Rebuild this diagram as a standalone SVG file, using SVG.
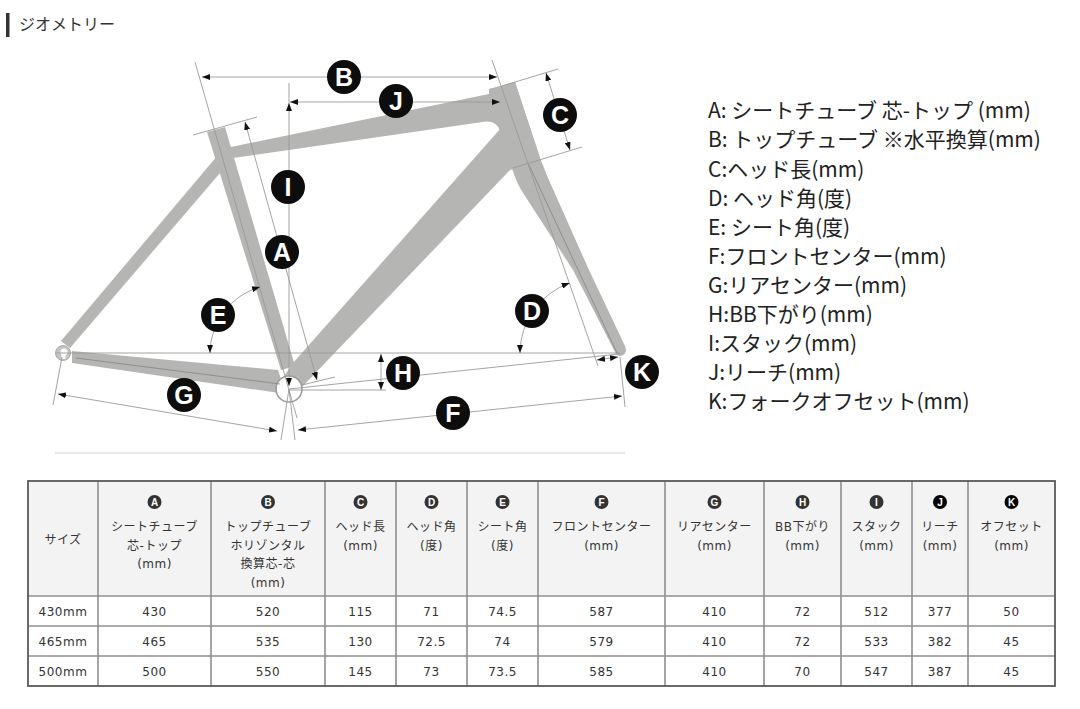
<svg xmlns="http://www.w3.org/2000/svg" width="1080" height="709" viewBox="0 0 1080 709">
<style>
.frame{fill:#b5b5b3;stroke:none}
.dim{stroke:#9a9a9a;stroke-width:0.9;fill:none}
.cl{stroke:#8a8a8a;stroke-width:0.9;fill:none}
.arr{marker-start:url(#ar);marker-end:url(#ar)}
.lbl circle{fill:#0d0d0d}
.lbl text{fill:#fff;font-family:"Liberation Sans",Arial,sans-serif;font-weight:bold;font-size:25px;text-anchor:middle}
.leg{font-family:"Noto Sans CJK JP",sans-serif;font-size:21px;fill:#222}
.tb{font-family:"DejaVu Sans","Noto Sans CJK JP",sans-serif;font-size:12px;fill:#333;text-anchor:middle;letter-spacing:0.5px}
.ic circle{fill:#333}
.ic text{fill:#fff;font-family:"Liberation Sans",Arial,sans-serif;font-weight:bold;font-size:10px;text-anchor:middle}
</style>
<defs>
<marker id="ar" viewBox="0 0 8 6" refX="8" refY="3" markerWidth="8" markerHeight="6" markerUnits="userSpaceOnUse" orient="auto-start-reverse">
<path d="M0,0 L8,3 L0,6 z" fill="#111"/>
</marker>
</defs>
<rect width="1080" height="709" fill="#fff"/>

<g id="title">
<rect x="6" y="13" width="3.5" height="24" fill="#333"/>
<text x="19" y="30" font-family="Noto Sans CJK JP,sans-serif" font-size="16" fill="#333">ジオメトリー</text>
</g>

<g id="frame">
<polygon class="frame" points="218,155 226,166 70,348 61,341"/>
<polygon class="frame" points="72,351 278,370 286,394 72,363"/>
<polygon class="frame" points="207,132 225,127 295,366 281,370"/>
<path class="frame" d="M225,139 L231,147 L489,94 L489,89 L502,86 L502,136 L500,131 Q497,121 486,121.5 L233,158 L228,160 Z"/>
<polygon class="frame" points="489,89 515,82 540,158 530,168 512,170 502,165 501,90"/>
<polygon class="frame" points="501,128 512,168 303,386 283,378 293,363"/>
<path class="frame" d="M512,168 L515,82 L540,158 L548,178 L589,270 L625,346 Q628,354 621,356 Q616,356 615,352 L573,270 L523,193 Q516,182 512,168 Z"/>
<circle cx="63" cy="353" r="7.5" fill="#c4c4c2" stroke="#9a9a9a" stroke-width="0.8"/>
<circle cx="64" cy="352" r="3.5" fill="#fff"/>
<rect x="61.5" y="352" width="4" height="7" fill="#fff"/>
<circle cx="289" cy="389" r="13" fill="#fff" stroke="#9c9c9c" stroke-width="1.6"/>
</g>

<g id="connectors">
<line class="cl" x1="76" y1="358" x2="280" y2="384"/>
<line class="cl" x1="528" y1="163" x2="617" y2="353"/>
<line class="dim" x1="195" y1="62" x2="297" y2="418"/>
<line class="dim" x1="193" y1="135" x2="257" y2="117"/>
<line class="dim" x1="302" y1="385" x2="335" y2="377"/>
<line class="dim" x1="289" y1="83" x2="289" y2="103"/>
<line class="dim" x1="492" y1="60" x2="598" y2="366"/>
<line class="dim" x1="502" y1="86" x2="558" y2="69"/>
<line class="dim" x1="513" y1="168" x2="582" y2="147"/>
<line class="dim" x1="56" y1="353" x2="620" y2="353"/>
<line class="dim" x1="289" y1="389" x2="619" y2="354"/>
<line class="dim" x1="289" y1="390" x2="386" y2="390"/>
<line class="dim" x1="62" y1="357" x2="53" y2="405"/>
<line class="dim" x1="620" y1="357" x2="625" y2="407"/>
<line class="dim" x1="289" y1="389" x2="281" y2="440"/>
<line class="dim" x1="289" y1="389" x2="295" y2="440"/>
<line x1="55" y1="453" x2="625" y2="453" stroke="#cfcfcf" stroke-width="1"/>
<line class="dim arr" x1="202" y1="77" x2="497" y2="77"/>
<line class="dim arr" x1="290" y1="102" x2="500" y2="102"/>
<line class="dim arr" x1="245" y1="122" x2="317" y2="380"/>
<line class="dim arr" x1="289" y1="103" x2="289" y2="386"/>
<line class="dim arr" x1="546" y1="73" x2="570" y2="150"/>
<line class="dim arr" x1="381" y1="354" x2="381" y2="390"/>
<line class="dim arr" x1="597" y1="360" x2="618" y2="357"/>
<line class="dim arr" x1="298" y1="430" x2="622" y2="396"/>
<line class="dim arr" x1="58" y1="394" x2="277" y2="431"/>
<path class="dim arr" d="M260,287 A69,69 0 0 0 210,353"/>
<path class="dim arr" d="M520,353 A74,74 0 0 1 569.7,283.1"/>
</g>

<g id="label-B" class="lbl"><circle cx="344" cy="77" r="17"/><text x="344" y="86">B</text></g>
<g id="label-J" class="lbl"><circle cx="396" cy="101" r="17"/><text x="396" y="110">J</text></g>
<g id="label-C" class="lbl"><circle cx="560" cy="115" r="17"/><text x="560" y="124">C</text></g>
<g id="label-I" class="lbl"><circle cx="288" cy="187" r="17"/><text x="288" y="196">I</text></g>
<g id="label-A" class="lbl"><circle cx="282" cy="252" r="17"/><text x="282" y="261">A</text></g>
<g id="label-E" class="lbl"><circle cx="218" cy="315" r="17"/><text x="218" y="324">E</text></g>
<g id="label-D" class="lbl"><circle cx="532" cy="311" r="17"/><text x="532" y="320">D</text></g>
<g id="label-H" class="lbl"><circle cx="403" cy="373" r="17"/><text x="403" y="382">H</text></g>
<g id="label-K" class="lbl"><circle cx="642" cy="372" r="17"/><text x="642" y="381">K</text></g>
<g id="label-G" class="lbl"><circle cx="184" cy="395" r="17"/><text x="184" y="404">G</text></g>
<g id="label-F" class="lbl"><circle cx="453" cy="413" r="17"/><text x="453" y="422">F</text></g>

<g id="legend" class="leg">
<text x="708" y="118">A: シートチューブ 芯-トップ (mm)</text>
<text x="708" y="147">B: トップチューブ ※水平換算(mm)</text>
<text x="708" y="176.5">C:ヘッド長(mm)</text>
<text x="708" y="205.5">D: ヘッド角(度)</text>
<text x="708" y="235">E: シート角(度)</text>
<text x="708" y="264">F:フロントセンター(mm)</text>
<text x="708" y="293">G:リアセンター(mm)</text>
<text x="708" y="322">H:BB下がり(mm)</text>
<text x="708" y="351">I:スタック(mm)</text>
<text x="708" y="380">J:リーチ(mm)</text>
<text x="708" y="409">K:フォークオフセット(mm)</text>
</g>

<g id="table">
<rect x="28" y="481" width="1027" height="115" fill="#f3f3f3"/>
<rect x="28" y="596" width="1027" height="90" fill="#fff"/>
<g stroke="#8f8f8f" stroke-width="1.6">
<line x1="28" y1="596" x2="1055" y2="596"/>
<line x1="28" y1="626" x2="1055" y2="626"/>
<line x1="28" y1="656" x2="1055" y2="656"/>
<line x1="98" y1="481" x2="98" y2="686"/>
<line x1="211" y1="481" x2="211" y2="686"/>
<line x1="325" y1="481" x2="325" y2="686"/>
<line x1="396" y1="481" x2="396" y2="686"/>
<line x1="467" y1="481" x2="467" y2="686"/>
<line x1="538" y1="481" x2="538" y2="686"/>
<line x1="665" y1="481" x2="665" y2="686"/>
<line x1="764" y1="481" x2="764" y2="686"/>
<line x1="841" y1="481" x2="841" y2="686"/>
<line x1="912" y1="481" x2="912" y2="686"/>
<line x1="968" y1="481" x2="968" y2="686"/>
</g>
<rect x="28" y="481" width="1027" height="205" fill="none" stroke="#5a5a5a" stroke-width="1.8"/>

<g class="ic">
<circle cx="154.5" cy="502" r="7"/><text x="154.5" y="505.5">A</text>
<circle cx="268" cy="502" r="7"/><text x="268" y="505.5">B</text>
<circle cx="360.5" cy="502" r="7"/><text x="360.5" y="505.5">C</text>
<circle cx="431.5" cy="502" r="7"/><text x="431.5" y="505.5">D</text>
<circle cx="502.5" cy="502" r="7"/><text x="502.5" y="505.5">E</text>
<circle cx="601.5" cy="502" r="7"/><text x="601.5" y="505.5">F</text>
<circle cx="714.5" cy="502" r="7"/><text x="714.5" y="505.5">G</text>
<circle cx="802.5" cy="502" r="7"/><text x="802.5" y="505.5">H</text>
<circle cx="876.5" cy="502" r="7"/><text x="876.5" y="505.5">I</text>
<circle cx="940" cy="502" r="7" style="fill:#000"/><text x="940" y="505.5">J</text>
<circle cx="1011.5" cy="502" r="7" style="fill:#000"/><text x="1011.5" y="505.5">K</text>
</g>

<g class="tb">
<text x="63" y="544">サイズ</text>
<text x="154.5" y="531">シートチューブ</text>
<text x="154.5" y="549.5">芯-トップ</text>
<text x="154.5" y="568">(mm)</text>
<text x="268" y="531">トップチューブ</text>
<text x="268" y="549.5">ホリゾンタル</text>
<text x="268" y="568">換算芯-芯</text>
<text x="268" y="586.5">(mm)</text>
<text x="360.5" y="531">ヘッド長</text>
<text x="360.5" y="549.5">(mm)</text>
<text x="431.5" y="531">ヘッド角</text>
<text x="431.5" y="549.5">(度)</text>
<text x="502.5" y="531">シート角</text>
<text x="502.5" y="549.5">(度)</text>
<text x="601.5" y="531">フロントセンター</text>
<text x="601.5" y="549.5">(mm)</text>
<text x="714.5" y="531">リアセンター</text>
<text x="714.5" y="549.5">(mm)</text>
<text x="802.5" y="531">BB下がり</text>
<text x="802.5" y="549.5">(mm)</text>
<text x="876.5" y="531">スタック</text>
<text x="876.5" y="549.5">(mm)</text>
<text x="940" y="531">リーチ</text>
<text x="940" y="549.5">(mm)</text>
<text x="1011.5" y="531">オフセット</text>
<text x="1011.5" y="549.5">(mm)</text>

<text x="63" y="615.5">430mm</text>
<text x="154.5" y="615.5">430</text>
<text x="268" y="615.5">520</text>
<text x="360.5" y="615.5">115</text>
<text x="431.5" y="615.5">71</text>
<text x="502.5" y="615.5">74.5</text>
<text x="601.5" y="615.5">587</text>
<text x="714.5" y="615.5">410</text>
<text x="802.5" y="615.5">72</text>
<text x="876.5" y="615.5">512</text>
<text x="940" y="615.5">377</text>
<text x="1011.5" y="615.5">50</text>

<text x="63" y="646">465mm</text>
<text x="154.5" y="646">465</text>
<text x="268" y="646">535</text>
<text x="360.5" y="646">130</text>
<text x="431.5" y="646">72.5</text>
<text x="502.5" y="646">74</text>
<text x="601.5" y="646">579</text>
<text x="714.5" y="646">410</text>
<text x="802.5" y="646">72</text>
<text x="876.5" y="646">533</text>
<text x="940" y="646">382</text>
<text x="1011.5" y="646">45</text>

<text x="63" y="676">500mm</text>
<text x="154.5" y="676">500</text>
<text x="268" y="676">550</text>
<text x="360.5" y="676">145</text>
<text x="431.5" y="676">73</text>
<text x="502.5" y="676">73.5</text>
<text x="601.5" y="676">585</text>
<text x="714.5" y="676">410</text>
<text x="802.5" y="676">70</text>
<text x="876.5" y="676">547</text>
<text x="940" y="676">387</text>
<text x="1011.5" y="676">45</text>
</g>
</g>
</svg>
